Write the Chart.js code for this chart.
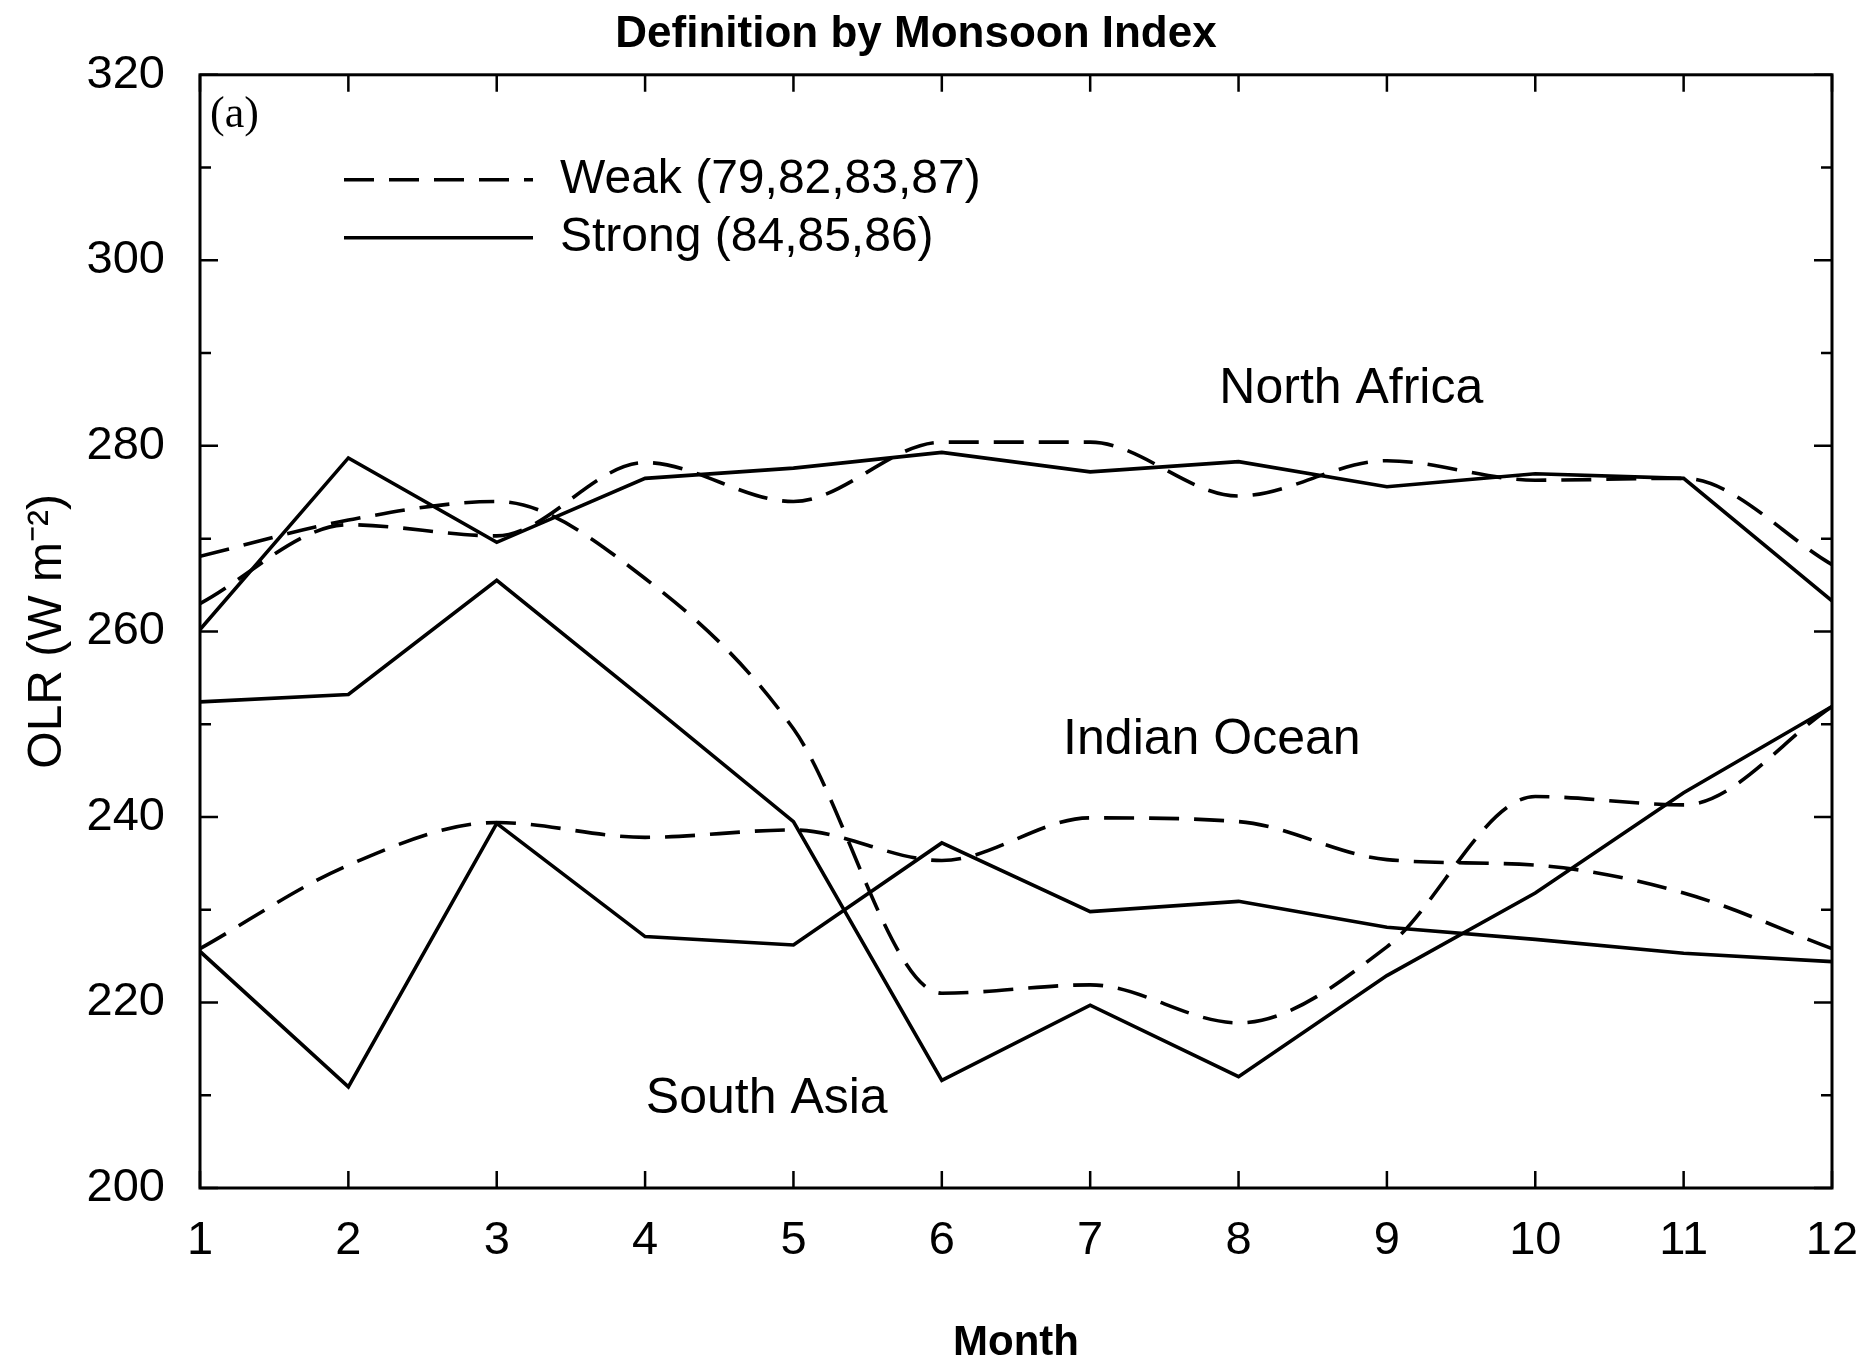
<!DOCTYPE html>
<html>
<head>
<meta charset="utf-8">
<title>Definition by Monsoon Index</title>
<script src="https://cdn.jsdelivr.net/npm/chart.js@4.4.1/dist/chart.umd.min.js"></script>
<style>
  html, body { margin: 0; padding: 0; background: #fff; }
  canvas { display: block; }
</style>
</head>
<body>
<canvas id="olrChart" width="1868" height="1371"></canvas>
<script>
// monthly OLR (W m-2), strong vs weak monsoon composites
const months = [1, 2, 3, 4, 5, 6, 7, 8, 9, 10, 11, 12];

const northAfricaStrong = [260.2, 278.7, 269.6, 276.5, 277.6, 279.3, 277.2, 278.3, 275.6, 277.0, 276.5, 263.3];
const northAfricaWeak   = [263.0, 271.5, 270.3, 278.2, 274.0, 280.4, 280.4, 274.6, 278.4, 276.3, 276.5, 267.2];
const indianOceanStrong = [252.4, 253.2, 265.5, 252.6, 239.5, 211.6, 219.7, 212.0, 222.9, 231.8, 242.6, 251.9];
const indianOceanWeak   = [268.1, 272.0, 274.0, 265.7, 249.5, 221.0, 221.9, 217.8, 226.0, 242.2, 241.3, 251.9];
const southAsiaStrong   = [225.5, 210.9, 239.3, 227.1, 226.2, 237.2, 229.8, 230.9, 228.1, 226.8, 225.3, 224.4];
const southAsiaWeak     = [225.8, 234.8, 239.4, 237.8, 238.6, 235.3, 239.9, 239.5, 235.4, 234.8, 231.8, 225.8];

const legendNames = ['Weak (79,82,83,87)', 'Strong (84,85,86)'];

Chart.defaults.font.family = "'Liberation Sans', Arial, sans-serif";
Chart.defaults.color = '#000';

const DASH = [30, 15];

function series(vals) {
  return months.map((m, i) => ({ x: m, y: vals[i] }));
}

function line(label, vals, weak) {
  return {
    label: label,
    data: series(vals),
    borderColor: '#000',
    borderWidth: 3.6,
    borderDash: weak ? DASH : [],
    pointRadius: 0,
    tension: 0,
    cubicInterpolationMode: weak ? 'monotone' : 'default',
    fill: false
  };
}

// box around the plot with inward tick marks on all four sides
const frame = {
  id: 'frame',
  afterDatasetsDraw(chart) {
    const { ctx, chartArea: a, scales: { x, y } } = chart;
    ctx.save();
    ctx.strokeStyle = '#000';
    ctx.lineWidth = 3;
    ctx.strokeRect(a.left, a.top, a.right - a.left, a.bottom - a.top);
    ctx.lineWidth = 2.5;
    ctx.beginPath();
    months.forEach(m => {
      const px = x.getPixelForValue(m);
      ctx.moveTo(px, a.bottom); ctx.lineTo(px, a.bottom - 17);
      ctx.moveTo(px, a.top); ctx.lineTo(px, a.top + 17);
    });
    for (let v = 200; v <= 320; v += 10) {
      const py = y.getPixelForValue(v);
      const len = v % 20 === 0 ? 18 : 11;
      ctx.moveTo(a.left, py); ctx.lineTo(a.left + len, py);
      ctx.moveTo(a.right, py); ctx.lineTo(a.right - len, py);
    }
    ctx.stroke();
    ctx.restore();
  }
};

// panel tag, key and region names
const notes = {
  id: 'notes',
  afterDatasetsDraw(chart) {
    const { ctx, chartArea: a, scales: { x, y } } = chart;
    ctx.save();
    ctx.fillStyle = '#000';
    ctx.strokeStyle = '#000';
    ctx.textBaseline = 'middle';

    ctx.font = "44px 'Liberation Serif', serif";
    ctx.textAlign = 'left';
    ctx.fillText('(a)', a.left + 10, a.top + 41);

    ctx.font = "48px 'Liberation Sans', Arial, sans-serif";
    ctx.lineWidth = 3.6;
    legendNames.forEach((name, i) => {
      const ly = a.top + 105 + i * 58;
      ctx.setLineDash(i === 0 ? DASH : []);
      ctx.beginPath();
      ctx.moveTo(a.left + 144, ly);
      ctx.lineTo(a.left + 333, ly);
      ctx.stroke();
      ctx.setLineDash([]);
      ctx.fillText(name, a.left + 360, ly);
    });

    ctx.font = "50px 'Liberation Sans', Arial, sans-serif";
    ctx.textAlign = 'center';
    [['North Africa', 8.76, 286.1], ['Indian Ocean', 7.82, 248.3], ['South Asia', 4.82, 209.6]]
      .forEach(([t, mx, vy]) => ctx.fillText(t, x.getPixelForValue(mx), y.getPixelForValue(vy)));
    ctx.restore();
  }
};

new Chart(document.getElementById('olrChart'), {
  type: 'line',
  data: {
    datasets: [
      line('North Africa strong', northAfricaStrong, false),
      line('North Africa weak', northAfricaWeak, true),
      line('Indian Ocean strong', indianOceanStrong, false),
      line('Indian Ocean weak', indianOceanWeak, true),
      line('South Asia strong', southAsiaStrong, false),
      line('South Asia weak', southAsiaWeak, true)
    ]
  },
  options: {
    responsive: false,
    animation: false,
    layout: { padding: { top: 0, right: 36, bottom: 0, left: 0 } },
    plugins: {
      legend: { display: false },
      tooltip: { enabled: false },
      title: {
        display: true,
        text: 'Definition by Monsoon Index',
        color: '#000',
        font: { size: 44, weight: 'bold' },
        padding: { top: 8, bottom: 14 }
      }
    },
    scales: {
      x: {
        type: 'linear',
        min: 1,
        max: 12,
        afterFit: s => { s.height = 183; s.paddingLeft = 0; s.paddingRight = 0; },
        grid: { display: false, drawTicks: false },
        border: { display: false },
        ticks: { stepSize: 1, padding: 25, color: '#000', font: { size: 47 } },
        title: {
          display: true,
          text: 'Month',
          color: '#000',
          font: { size: 42, weight: 'bold' },
          padding: { top: 0, bottom: 2 }
        }
      },
      y: {
        min: 200,
        max: 320,
        afterFit: s => { s.width = 200; s.paddingTop = 0; s.paddingBottom = 0; },
        grid: { display: false, drawTicks: false },
        border: { display: false },
        ticks: { stepSize: 20, padding: 35, color: '#000', font: { size: 47 } },
        title: {
          display: true,
          text: 'OLR (W m\u207B\u00B2)',
          color: '#000',
          font: { size: 48 },
          padding: { top: 19, bottom: 0 }
        }
      }
    }
  },
  plugins: [frame, notes]
});
</script>
</body>
</html>
